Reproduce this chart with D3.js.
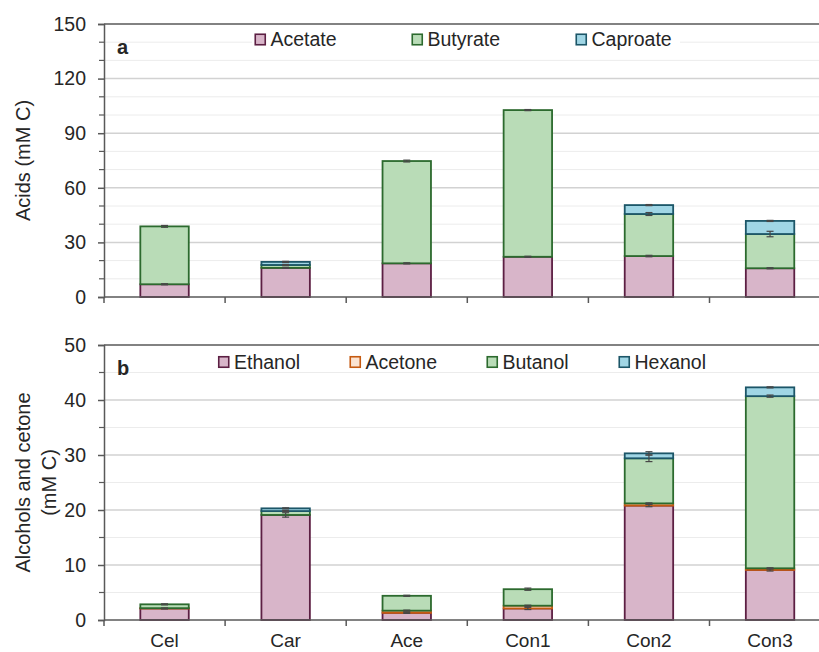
<!DOCTYPE html>
<html>
<head>
<meta charset="utf-8">
<script src="https://cdn.jsdelivr.net/npm/d3@7/dist/d3.min.js"></script>
<style>
  html, body { margin: 0; padding: 0; background: #ffffff; }
  svg { display: block; }
  text { font-family: "Liberation Sans", Arial, sans-serif; fill: #262626; }
</style>
</head>
<body>
<svg id="chart" width="819" height="652"></svg>
<script>
// Categories (treatments)
const categories = ["Cel", "Car", "Ace", "Con1", "Con2", "Con3"];

// Panel a: acids (mM C)
const acetate  = [7.0, 16.0, 18.5, 22.1, 22.5, 15.8];
const butyrate = [31.8, 1.6, 56.2, 80.6, 23.1, 18.8];
const caproate = [0.0, 1.7, 0.0, 0.0, 4.9, 7.2];
const acetateErr  = [0.3, 0.3, 0.3, 0.3, 0.4, 0.3];
const butyrateErr = [0.5, 0.3, 0.5, 0.3, 0.8, 1.5];
const caproateErr = [0.0, 0.3, 0.0, 0.0, 0.3, 0.3];

// Panel b: alcohols and acetone (mM C)
const ethanol = [2.1, 19.1, 1.3, 2.1, 20.8, 9.1];
const acetone = [0.05, 0.0, 0.4, 0.5, 0.4, 0.3];
const butanol = [0.7, 0.7, 2.7, 3.0, 8.2, 31.3];
const hexanol = [0.0, 0.5, 0.0, 0.0, 0.9, 1.6];
const ethanolErr = [0.1, 0.4, 0.1, 0.2, 0.2, 0.2];
const acetoneErr = [0.0, 0.0, 0.1, 0.1, 0.1, 0.1];
const butanolErr = [0.1, 0.1, 0.1, 0.2, 0.6, 0.2];
const hexanolErr = [0.0, 0.1, 0.0, 0.0, 0.3, 0.1];

// Axis ticks
const acidTicks = [0, 30, 60, 90, 120, 150];
const alcTicks = [0, 10, 20, 30, 40, 50];

const colors = {
  pink:   { fill: "#d8b5c9", stroke: "#5c1f43" },
  green:  { fill: "#b9dcb7", stroke: "#2c6a2e" },
  blue:   { fill: "#a0d6e5", stroke: "#1c5668" },
  orange: { fill: "#fbe3d1", stroke: "#c55a11" }
};

const svg = d3.select("#chart");
const axisColor = "#595959";
const plotLeft = 104;
const plotRight = 830.6;

const x = d3.scaleBand()
  .domain(categories)
  .range([plotLeft, plotRight])
  .paddingInner(0.6)
  .paddingOuter(0.3);

function drawPanel(cfg) {
  const g = svg.append("g");
  const y = d3.scaleLinear().domain([0, cfg.max]).range([cfg.bottom, cfg.top]);

  // minor + major gridlines
  const minor = d3.range(cfg.minorStep, cfg.max, cfg.minorStep).filter(v => v % cfg.majorStep !== 0);
  g.selectAll(".minor").data(minor).join("line")
    .attr("x1", plotLeft).attr("x2", 819)
    .attr("y1", d => y(d)).attr("y2", d => y(d))
    .attr("stroke", "#ececec").attr("stroke-width", 1);
  const major = cfg.ticks.filter(v => v > 0 && v < cfg.max);
  g.selectAll(".major").data(major).join("line")
    .attr("x1", plotLeft).attr("x2", 819)
    .attr("y1", d => y(d)).attr("y2", d => y(d))
    .attr("stroke", "#d2d2d2").attr("stroke-width", 1.5);

  // legend (white box hides the grid behind it)
  g.append("rect")
    .attr("x", cfg.legendBox[0]).attr("y", cfg.legendBox[1])
    .attr("width", cfg.legendBox[2]).attr("height", cfg.legendBox[3])
    .attr("fill", "#ffffff");
  cfg.series.forEach((s, i) => {
    const lx = cfg.legendX[i];
    g.append("rect")
      .attr("x", lx + 0.75).attr("y", cfg.legendY + 0.75)
      .attr("width", 10).attr("height", 10.5)
      .attr("fill", s.color.fill).attr("stroke", s.color.stroke).attr("stroke-width", 1.6);
    g.append("text")
      .attr("x", lx + 16).attr("y", cfg.legendY + 12.5)
      .attr("font-size", 19.5).text(s.name);
  });

  // stacked bars
  const keys = cfg.series.map(s => s.name);
  const rows = categories.map((c, i) => {
    const r = { cat: c };
    cfg.series.forEach(s => { r[s.name] = s.values[i]; });
    return r;
  });
  const stack = d3.stack().keys(keys)(rows);
  stack.forEach((layer, li) => {
    const s = cfg.series[li];
    g.selectAll(".seg" + li).data(layer.filter(d => d[1] - d[0] > 0)).join("rect")
      .attr("x", d => x(d.data.cat))
      .attr("width", x.bandwidth())
      .attr("y", d => y(d[1]))
      .attr("height", d => y(d[0]) - y(d[1]))
      .attr("fill", s.color.fill)
      .attr("stroke", s.color.stroke)
      .attr("stroke-width", 1.8);
  });

  // error bars at each segment top
  stack.forEach((layer, li) => {
    const s = cfg.series[li];
    layer.forEach((d, i) => {
      const e = s.err[i];
      if (!(e > 0) || !(d[1] - d[0] > 0)) return;
      const cx = x(d.data.cat) + x.bandwidth() / 2;
      const y1 = y(d[1] + e), y2 = y(d[1] - e);
      g.append("line").attr("x1", cx).attr("x2", cx).attr("y1", y1).attr("y2", y2)
        .attr("stroke", "#474747").attr("stroke-width", 1.2);
      [y1, y2].forEach(yy => g.append("line")
        .attr("x1", cx - 3.5).attr("x2", cx + 3.5).attr("y1", yy).attr("y2", yy)
        .attr("stroke", "#474747").attr("stroke-width", 1.2));
    });
  });

  // top border of the plot area
  g.append("line").attr("x1", plotLeft).attr("x2", 819)
    .attr("y1", cfg.top).attr("y2", cfg.top)
    .attr("stroke", axisColor).attr("stroke-width", 1.5);

  // y axis
  const yAxis = d3.axisLeft(y).tickValues(cfg.ticks).tickSize(6).tickPadding(12);
  const ya = g.append("g").attr("transform", `translate(${plotLeft},0)`).call(yAxis);
  ya.select(".domain").attr("stroke", axisColor).attr("stroke-width", 1.5);
  ya.selectAll(".tick line").attr("stroke", axisColor).attr("stroke-width", 1.5);
  ya.selectAll(".tick text").attr("font-size", 19.5).attr("fill", "#262626")
    .attr("font-family", "Liberation Sans, Arial, sans-serif");
  // minor y ticks
  g.selectAll(".mtick").data(minor).join("line")
    .attr("x1", plotLeft - 5).attr("x2", plotLeft)
    .attr("y1", d => y(d)).attr("y2", d => y(d))
    .attr("stroke", axisColor).attr("stroke-width", 1.2);

  // x axis with ticks at category boundaries
  g.append("line").attr("x1", plotLeft).attr("x2", 819)
    .attr("y1", cfg.bottom).attr("y2", cfg.bottom)
    .attr("stroke", axisColor).attr("stroke-width", 1.5);
  const step = x.step();
  g.selectAll(".xtick").data(d3.range(categories.length + 1)).join("line")
    .attr("x1", i => plotLeft + i * step).attr("x2", i => plotLeft + i * step)
    .attr("y1", cfg.bottom).attr("y2", cfg.bottom + 6)
    .attr("stroke", axisColor).attr("stroke-width", 1.5);

  // panel letter
  g.append("text").attr("x", 117).attr("y", cfg.top + 30)
    .attr("font-size", 20).attr("font-weight", "bold").attr("fill", "#000").text(cfg.letter);

  // axis title
  const midY = (cfg.top + cfg.bottom) / 2;
  cfg.title.forEach((line, i) => {
    g.append("text")
      .attr("transform", `translate(${cfg.titleX[i]},${midY}) rotate(-90)`)
      .attr("text-anchor", "middle").attr("dy", "0.35em")
      .attr("font-size", 20).text(line);
  });

  return g;
}

drawPanel({
  top: 24, bottom: 297, max: 150, ticks: acidTicks, minorStep: 10, majorStep: 30,
  letter: "a", title: ["Acids (mM C)"], titleX: [23],
  legendX: [254.5, 411.5, 575.5], legendY: 33.5, legendBox: [252, 30, 428, 19],
  series: [
    { name: "Acetate",  values: acetate,  err: acetateErr,  color: colors.pink },
    { name: "Butyrate", values: butyrate, err: butyrateErr, color: colors.green },
    { name: "Caproate", values: caproate, err: caproateErr, color: colors.blue }
  ]
});

drawPanel({
  top: 345, bottom: 620, max: 50, ticks: alcTicks, minorStep: 5, majorStep: 10,
  letter: "b", title: ["Alcohols and cetone", "(mM C)"], titleX: [23, 49],
  legendX: [218, 349.5, 486.5, 618.5], legendY: 356, legendBox: [215, 352, 480, 18],
  series: [
    { name: "Ethanol", values: ethanol, err: ethanolErr, color: colors.pink },
    { name: "Acetone", values: acetone, err: acetoneErr, color: colors.orange },
    { name: "Butanol", values: butanol, err: butanolErr, color: colors.green },
    { name: "Hexanol", values: hexanol, err: hexanolErr, color: colors.blue }
  ]
});

// category labels under panel b
svg.append("g").selectAll("text").data(categories).join("text")
  .attr("x", d => x(d) + x.bandwidth() / 2)
  .attr("y", 647)
  .attr("text-anchor", "middle")
  .attr("font-size", 19)
  .text(d => d);
</script>
</body>
</html>
